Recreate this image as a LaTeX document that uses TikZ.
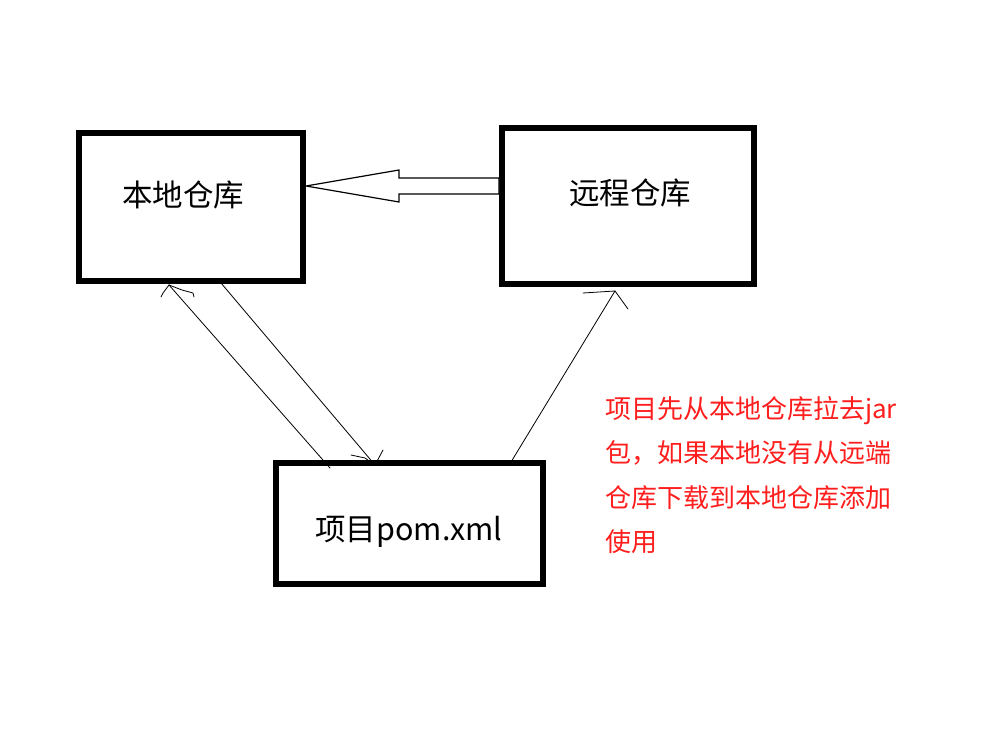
\documentclass[tikz,border=0pt]{standalone}
\usepackage{fontspec}
\setmainfont{Noto Sans CJK SC}
\begin{document}
\begin{tikzpicture}[x=1pt,y=-1pt,
  box/.style={draw=black,line width=6pt,minimum width=#1,inner sep=0pt,fill=white},
  bigtxt/.style={inner sep=0pt,font=\fontsize{30.5}{35}\selectfont},
  note/.style={inner sep=0pt,anchor=base west,text=notered,font=\fontsize{26}{30}\selectfont},
  thin/.style={line width=0.8pt,line cap=round,line join=round},
  hollow/.style={draw=black,line width=1.2pt,fill=white,line join=miter}]
\definecolor{notered}{RGB}{255,30,30}
\useasboundingbox[fill=white] (0,0) rectangle (996,752);
% boxes
\node[box=224pt,minimum height=148pt] (local) at (191,207) {};
\node[box=252pt,minimum height=156pt] (remote) at (628,206) {};
\node[box=267pt,minimum height=121pt] (proj) at (409.5,523.5) {};
% texts
\node[bigtxt] (tlocal) at (183,195) {本地仓库};
\node[bigtxt] (tremote) at (630,193) {远程仓库};
\node[bigtxt] (tproj) at (409,532) {项目pom.xml};
% hollow arrow from remote to local
\draw[hollow] (local.east |- 0,186) coordinate (ha) -- (399,170) -- (399,178) -- (remote.west |- 0,178)
  -- (remote.west |- 0,194) -- (399,194) -- (399,202) -- cycle;
% connectors
\coordinate (l1s) at (330,468);
\coordinate (l1t) at (169,285);
\coordinate (l2s) at (221,283);
\coordinate (l2t) at (375,465);
\coordinate (l3s) at (511,462);
\coordinate (l3t) at (615,291);
\draw[thin] (l1s) -- (l1t);
\draw[thin] (l1t) -- (163,293) -- (161,297);
\draw[thin] (l1t) -- (182,290) -- (193,293) -- (194,297);
\draw[thin] (l2s) -- (l2t);
\draw[thin] (l2t) -- (365,458) -- (351,455);
\draw[thin] (l2t) -- (383,450);
\draw[thin] (l3s) -- (l3t);
\draw[thin] (l3t) -- (583,293);
\draw[thin] (l3t) -- (628,309);
% note
\node[note] (n1) at (605,418) {项目先从本地仓库拉去jar};
\node[note] (n2) at (605,462.5) {包，如果本地没有从远端};
\node[note] (n3) at (605,507) {仓库下载到本地仓库添加};
\node[note] (n4) at (605,551.5) {使用};
\end{tikzpicture}
\end{document}
